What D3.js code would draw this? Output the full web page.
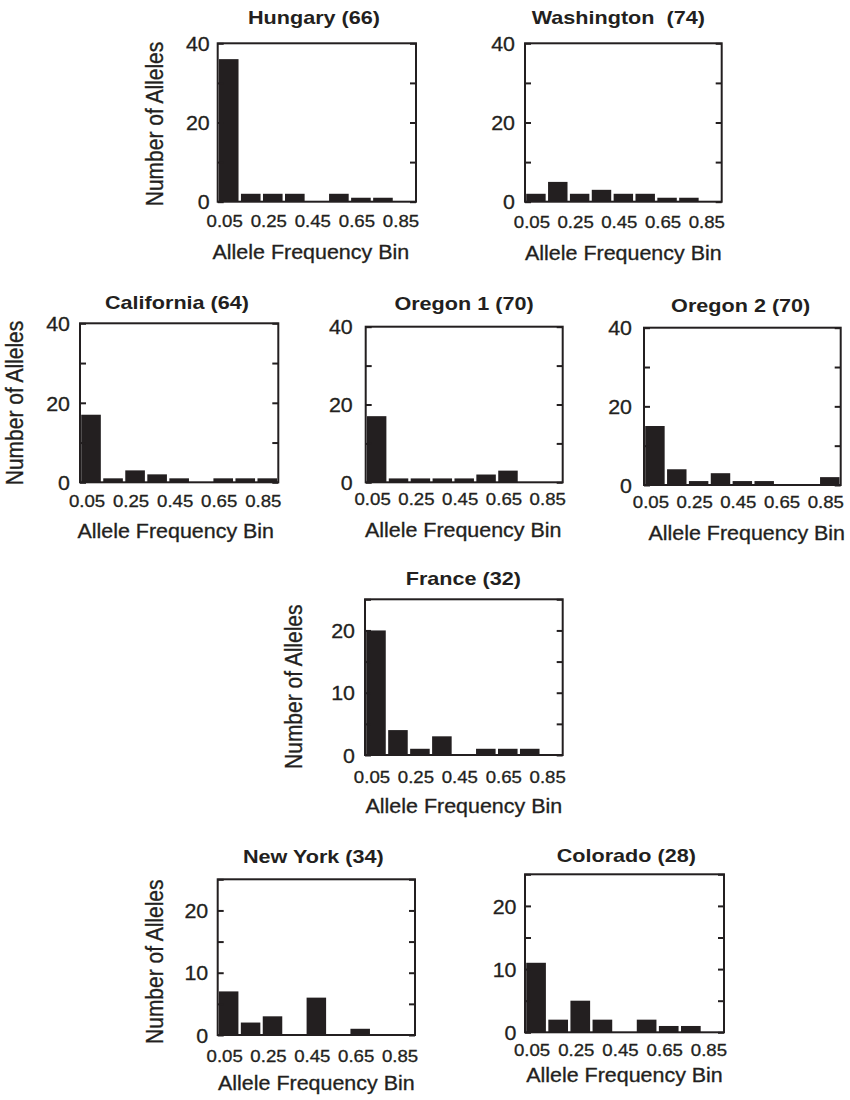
<!DOCTYPE html>
<html>
<head>
<meta charset="utf-8">
<script src="https://cdn.jsdelivr.net/npm/d3@7"></script>
<style>
  html, body { margin: 0; padding: 0; background: #fff; }
  svg text { font-family: "Liberation Sans", Arial, Helvetica, sans-serif; fill: #231f20; }
  svg text.reg { stroke: #231f20; stroke-width: 0.3px; }
</style>
</head>
<body>
<svg id="chart" width="850" height="1100"></svg>
<script>
// ---------- data ----------
const binCenters = [0.05, 0.15, 0.25, 0.35, 0.45, 0.55, 0.65, 0.75, 0.85];
const xTickValues = [0.05, 0.25, 0.45, 0.65, 0.85];
const xTickLabels = ["0.05", "0.25", "0.45", "0.65", "0.85"];

const hungary    = [36, 2, 2, 2, 0, 2, 1, 1, 0];
const washington = [2, 5, 2, 3, 2, 2, 1, 1, 0];
const california = [17, 1, 3, 2, 1, 0, 1, 1, 1];
const oregon1    = [17, 1, 1, 1, 1, 2, 3, 0, 0];
const oregon2    = [15, 4, 1, 3, 1, 1, 0, 0, 2];
const france     = [20, 4, 1, 3, 0, 1, 1, 1, 0];
const newYork    = [7, 2, 3, 0, 6, 0, 1, 0, 0];
const colorado   = [11, 2, 5, 2, 0, 2, 1, 1, 0];

const titles = ["Hungary (66)", "Washington  (74)", "California (64)", "Oregon 1 (70)",
                "Oregon 2 (70)", "France (32)", "New York (34)", "Colorado (28)"];
const series = [hungary, washington, california, oregon1, oregon2, france, newYork, colorado];

const yMax40 = { max: 40, minor: [0, 10, 20, 30, 40], major: [0, 20, 40] };
const yMax25 = { max: 25, minor: [0, 5, 10, 15, 20, 25], major: [0, 10, 20] };

const xLabel = "Allele Frequency Bin";
const yLabel = "Number of Alleles";

// ---------- layout (positions only) ----------
const layout = [
  { L: 217.7, R: 416,   T: 43.3,  B: 201.7,  y: yMax40, tx: 314,   ty: 24,    gap: 8,  xt: 25.6, xl: 57.3, xd: -6,   yl: { x: 163,   cy: 124 } },
  { L: 525,   R: 721.7, T: 43.3,  B: 201.7,  y: yMax40, tx: 618.3, ty: 24,    gap: 10, xt: 26.6, xl: 58.3, xd: 0,    yl: null },
  { L: 80,    R: 278.3, T: 323.3, B: 482.3,  y: yMax40, tx: 177,   ty: 309.3, gap: 10, xt: 24.4, xl: 56,   xd: -3.4, yl: { x: 23.3,  cy: 403 } },
  { L: 365.7, R: 562.7, T: 326.7, B: 482.3,  y: yMax40, tx: 464,   ty: 310,   gap: 13, xt: 22.7, xl: 54.4, xd: -1,   yl: null },
  { L: 644,   R: 840.7, T: 327.7, B: 485,    y: yMax40, tx: 740.7, ty: 312.3, gap: 12, xt: 22.7, xl: 55,   xd: 4.4,  yl: null },
  { L: 365,   R: 562.7, T: 599.3, B: 755,    y: yMax25, tx: 463.3, ty: 585,   gap: 10, xt: 27.7, xl: 58.3, xd: 0,    yl: { x: 301.7, cy: 686.7 } },
  { L: 217.7, R: 415,   T: 879.3, B: 1035,   y: yMax25, tx: 313.3, ty: 863.3, gap: 9.5,xt: 26.7, xl: 55,   xd: 0,    yl: { x: 163.3, cy: 961.7 } },
  { L: 525,   R: 724,   T: 874.3, B: 1032.3, y: yMax25, tx: 626.3, ty: 861.7, gap: 8.5,xt: 23.4, xl: 50,   xd: 0,    yl: null }
];

const ink = "#231f20";
const svg = d3.select("#chart");

series.forEach((vals, i) => {
  const p = layout[i];
  const g = svg.append("g");
  const x = d3.scaleLinear().domain([0, 0.9]).range([p.L, p.R]);
  const y = d3.scaleLinear().domain([0, p.y.max]).range([p.B, p.T]);
  const halfW = 0.0445;

  // bars
  g.selectAll("rect.bar")
    .data(vals.map((v, k) => ({ c: binCenters[k], v })))
    .join("rect")
    .attr("class", "bar")
    .attr("x", d => x(Math.max(0, d.c - halfW)))
    .attr("width", d => x(Math.min(0.9, d.c + halfW)) - x(Math.max(0, d.c - halfW)))
    .attr("y", d => y(d.v))
    .attr("height", d => y(0) - y(d.v))
    .attr("fill", ink);

  // inward ticks left
  const tl = g.append("g").attr("transform", `translate(${p.L},0)`)
    .call(d3.axisRight(y).tickValues(p.y.minor).tickSize(6).tickFormat(""));
  tl.select(".domain").remove();
  tl.selectAll("line").attr("stroke", ink).attr("stroke-width", 2);
  // inward ticks right
  const tr = g.append("g").attr("transform", `translate(${p.R},0)`)
    .call(d3.axisLeft(y).tickValues(p.y.minor).tickSize(6).tickFormat(""));
  tr.select(".domain").remove();
  tr.selectAll("line").attr("stroke", ink).attr("stroke-width", 2);

  // y tick labels
  const yl = g.append("g").attr("transform", `translate(${p.L},0)`)
    .call(d3.axisLeft(y).tickValues(p.y.major).tickSize(0).tickFormat(d3.format("d")));
  yl.select(".domain").remove();
  yl.selectAll("text")
    .attr("class", "reg")
    .attr("x", 0).attr("dy", "0.36em")
    .attr("transform", `translate(${-p.gap},0) scale(1.07,1)`)
    .style("font-size", "20px").attr("fill", ink);

  // x tick labels
  const xa = g.append("g").attr("transform", `translate(0,${p.B})`)
    .call(d3.axisBottom(x).tickValues(xTickValues).tickSize(0)
      .tickFormat((d, k) => xTickLabels[k]));
  xa.select(".domain").remove();
  xa.selectAll("text")
    .attr("class", "reg")
    .attr("y", 0).attr("dy", 0)
    .attr("transform", `translate(-4.5,${p.xt}) scale(1.13,1)`)
    .style("font-size", "16.5px").attr("fill", ink);

  // frame
  g.append("rect")
    .attr("x", p.L).attr("y", p.T)
    .attr("width", p.R - p.L).attr("height", p.B - p.T)
    .attr("fill", "none").attr("stroke", ink).attr("stroke-width", 2);

  // title
  g.append("text")
    .attr("transform", `translate(${p.tx},${p.ty}) scale(1.2,1)`)
    .attr("text-anchor", "middle")
    .style("font-size", "18px").style("font-weight", "bold")
    .style("white-space", "pre")
    .text(titles[i]);

  // x axis label
  g.append("text")
    .attr("class", "reg")
    .attr("transform", `translate(${(p.L + p.R) / 2 + p.xd},${p.B + p.xl}) scale(1.1,1)`)
    .attr("text-anchor", "middle")
    .style("font-size", "19.5px")
    .text(xLabel);

  // y axis label
  if (p.yl) {
    g.append("text")
      .attr("class", "reg")
      .attr("transform", `translate(${p.yl.x},${p.yl.cy}) scale(1.12,1) rotate(-90)`)
      .attr("text-anchor", "middle")
      .style("font-size", "21px")
      .text(yLabel);
  }
});
</script>
</body>
</html>
